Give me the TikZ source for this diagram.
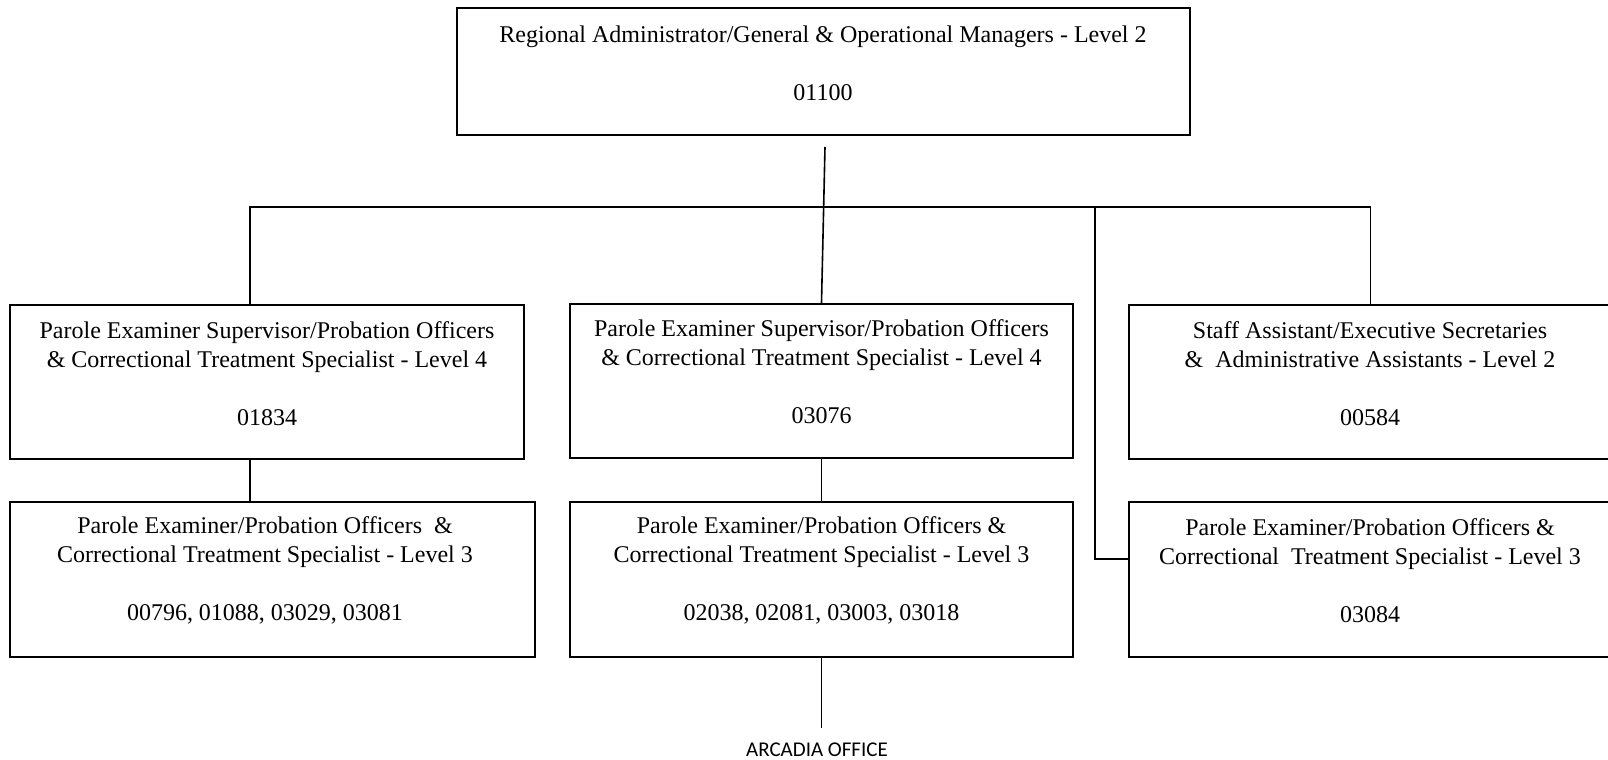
\documentclass[tikz,border=0pt]{standalone}
\usepackage{fontspec}
\setmainfont{Liberation Serif}
\newfontfamily\calib{Carlito}
\begin{document}
\begin{tikzpicture}[x=0.5pt,y=-0.5pt,
  box/.style={draw,line width=1.1pt,rectangle,inner sep=0pt},
  lbl/.style={align=center,font=\fontsize{12}{14.5}\selectfont,inner sep=0pt},
  conn/.style={line width=0.8pt}]
\useasboundingbox (0,0) rectangle (1608,760);
\clip (0,0) rectangle (1608,760);
% boxes
\node[box,minimum width=366.5pt,minimum height=63.5pt] (top) at (823.5,71.5) {};
\node[box,minimum width=257pt,minimum height=77pt] (l4l) at (267,382) {};
\node[box,minimum width=262.5pt,minimum height=77.5pt] (l3l) at (272.5,579.5) {};
\node[box,minimum width=251.5pt,minimum height=77pt] (l4m) at (821.5,381) {};
\node[box,minimum width=251.5pt,minimum height=77.5pt] (l3m) at (821.5,579.5) {};
\node[box,minimum width=241.5pt,minimum height=77pt] (r2) at (1370.5,382) {};
\node[box,minimum width=241.5pt,minimum height=77.5pt] (r3) at (1370.5,579.5) {};
% texts
\node[lbl] (ttop) at (823,63) {Regional Administrator/General \& Operational Managers - Level 2\\[14.5pt]01100};
\node[lbl] (tl4l) at (267,374) {Parole Examiner Supervisor/Probation Officers\\\& Correctional Treatment Specialist - Level 4\\[14.5pt]01834};
\node[lbl] (tl3l) at (265,570.5) {Parole Examiner/Probation Officers\ \ \&\\Correctional Treatment Specialist - Level 3\\[14.5pt]00796, 01088, 03029, 03081};
\node[lbl] (tl4m) at (821.5,372) {Parole Examiner Supervisor/Probation Officers\\\& Correctional Treatment Specialist - Level 4\\[14.5pt]03076};
\node[lbl] (tl3m) at (821.5,570.5) {Parole Examiner/Probation Officers \&\\Correctional Treatment Specialist - Level 3\\[14.5pt]02038, 02081, 03003, 03018};
\node[lbl] (tr2) at (1370,374) {Staff Assistant/Executive Secretaries\\\&\ \ Administrative Assistants - Level 2\\[14.5pt]00584};
\node[lbl] (tr3) at (1370,570.5) {Parole Examiner/Probation Officers \&\\Correctional\ \ Treatment Specialist - Level 3\\[14.5pt]03084};
\node[inner sep=0pt,font=\calib\fontsize{10.5}{12}\selectfont] (arc) at (817,750) {ARCADIA OFFICE};
% connectors
\coordinate (s) at (825,147);
\coordinate (busL) at (250,207);
\coordinate (busM) at (1095,207);
\coordinate (busR) at (1370.5,207);
\coordinate (rj) at (1095,559);
\coordinate (ae) at (821.5,728);
\draw[conn] (s) -- (l4m.north);
\draw[conn] (busL |- l4l.north) -- (busL) -- (busR) -- (r2.north);
\draw[conn] (busM) -- (rj) -- (rj -| r3.west);
\draw[conn] (busL |- l4l.south) -- (busL |- l3l.north);
\draw[conn] (l4m.south) -- (l3m.north);
\draw[conn] (l3m.south) -- (ae);
\end{tikzpicture}
\end{document}
